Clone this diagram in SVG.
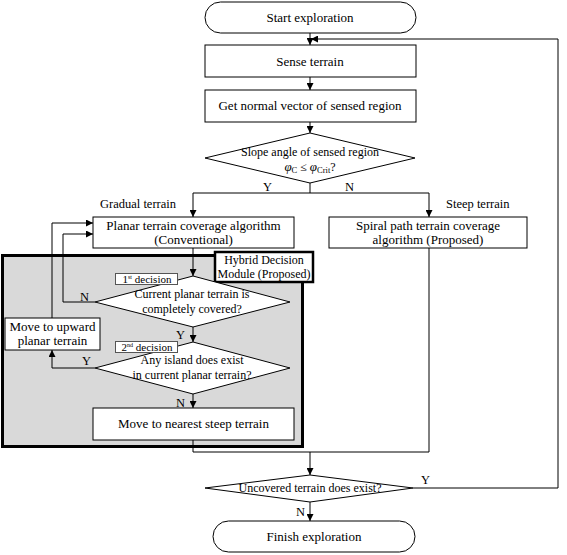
<svg xmlns="http://www.w3.org/2000/svg" width="567" height="555" viewBox="0 0 567 555">
<defs>
<marker id="ah" viewBox="0 0 10 10" refX="10" refY="5" markerWidth="7" markerHeight="7" markerUnits="userSpaceOnUse" orient="auto">
<path d="M0,0 L10,5 L0,10 z" fill="#000"/>
</marker>
<style>
.b{fill:#fff;stroke:#000;stroke-width:1}
.t{font-family:"Liberation Serif","Times New Roman",serif;font-size:13px;fill:#000;text-anchor:middle}
.s{font-family:"Liberation Serif","Times New Roman",serif;font-size:12px;fill:#000;text-anchor:middle}
.d{font-family:"Liberation Serif","Times New Roman",serif;font-size:11px;fill:#000;text-anchor:middle}
.l{font-family:"Liberation Serif","Times New Roman",serif;font-size:12.5px;fill:#000}
.c{fill:none;stroke:#000;stroke-width:1}
.a{fill:none;stroke:#000;stroke-width:1;marker-end:url(#ah)}
</style>
</defs>
<rect width="567" height="555" fill="#fff"/>
<g id="hybrid-region">
<rect x="2.5" y="255.5" width="300" height="191" fill="#d9d9d9" stroke="#000" stroke-width="3"/>
</g>
<g id="connectors">
<line class="a" x1="310" y1="33" x2="310" y2="45"/>
<line class="a" x1="310" y1="77" x2="310" y2="90"/>
<line class="a" x1="310" y1="122" x2="310" y2="133"/>
<polyline class="c" points="310,183 310,193"/>
<polyline class="c" points="193,193 429,193"/>
<line class="a" x1="193" y1="193" x2="193" y2="217"/>
<line class="a" x1="429" y1="193" x2="429" y2="217"/>
<line class="a" x1="193" y1="248" x2="193" y2="276"/>
<polyline class="a" points="95,302 63,302 63,234 93,234"/>
<line class="a" x1="193" y1="327" x2="193" y2="342"/>
<polyline class="a" points="95,368 52,368 52,350"/>
<polyline class="a" points="52,318 52,223 93,223"/>
<line class="a" x1="193" y1="394" x2="193" y2="408"/>
<polyline class="c" points="193,440 193,452 429,452 429,248"/>
<line class="a" x1="310" y1="452" x2="310" y2="475"/>
<polyline class="a" points="413,488 558,488 558,39 311,39"/>
<line class="a" x1="310" y1="502" x2="310" y2="521"/>
</g>
<g id="labels">
<text class="l" x="263" y="191">Y</text>
<text class="l" x="345" y="191">N</text>
<text class="l" x="100" y="208">Gradual terrain</text>
<text class="l" x="446" y="208">Steep terrain</text>
<text class="l" x="80" y="301">N</text>
<text class="l" x="176" y="339">Y</text>
<text class="l" x="82" y="365">Y</text>
<text class="l" x="176" y="407">N</text>
<text class="l" x="421" y="484">Y</text>
<text class="l" x="296" y="516">N</text>
</g>
<g id="start">
<rect class="b" x="205" y="2" width="211" height="31" rx="15.5"/>
<text class="t" x="310" y="22">Start exploration</text>
</g>
<g id="sense">
<rect class="b" x="205" y="45" width="211" height="32"/>
<text class="t" x="310" y="66">Sense terrain</text>
</g>
<g id="normal">
<rect class="b" x="205" y="90" width="211" height="32"/>
<text class="t" x="310" y="110">Get normal vector of sensed region</text>
</g>
<g id="slope">
<polygon class="b" points="310,133 415,158 310,183 205,158"/>
<text class="s" x="310" y="156">Slope angle of sensed region</text>
<text class="s" x="310" y="171"><tspan font-style="italic" font-size="13">φ</tspan><tspan font-size="8.5" dy="2">C</tspan><tspan dy="-2"> ≤ </tspan><tspan font-style="italic" font-size="13">φ</tspan><tspan font-size="8.5" dy="2">Crit</tspan><tspan dy="-2">?</tspan></text>
</g>
<g id="planar">
<rect class="b" x="93" y="217" width="201" height="31"/>
<text class="t" x="193.5" y="230">Planar terrain coverage algorithm</text>
<text class="t" x="193.5" y="244">(Conventional)</text>
</g>
<g id="spiral">
<rect class="b" x="329" y="217" width="198" height="31"/>
<text class="t" x="428" y="230">Spiral path terrain coverage</text>
<text class="t" x="428" y="244">algorithm (Proposed)</text>
</g>
<g id="hybrid-label">
<rect x="215" y="252" width="98" height="30" fill="#fff" stroke="#000" stroke-width="2.5"/>
<text class="s" x="264" y="264">Hybrid Decision</text>
<text class="s" x="264" y="278">Module (Proposed)</text>
</g>
<g id="decision1">
<polygon class="b" points="193,276 290,302 193,327 95,302"/>
<text class="s" x="192" y="298">Current planar terrain is</text>
<text class="s" x="192" y="313">completely covered?</text>
<rect x="115.5" y="273.5" width="62" height="11" fill="#fff" stroke="#555" stroke-width="1"/>
<text class="d" x="147" y="283">1<tspan font-size="6" dy="-4">st</tspan><tspan dy="4"> decision</tspan></text>
</g>
<g id="decision2">
<polygon class="b" points="193,342 290,368 193,394 95,368"/>
<text class="s" x="192" y="364">Any island does exist</text>
<text class="s" x="192" y="379">in current planar terrain?</text>
<rect x="115.5" y="341.5" width="62" height="11" fill="#fff" stroke="#555" stroke-width="1"/>
<text class="d" x="147" y="351">2<tspan font-size="6" dy="-4">nd</tspan><tspan dy="4"> decision</tspan></text>
</g>
<g id="upward">
<rect class="b" x="5" y="318" width="95" height="32"/>
<text class="t" x="52.5" y="331">Move to upward</text>
<text class="t" x="52.5" y="345">planar terrain</text>
</g>
<g id="nearest">
<rect class="b" x="93" y="408" width="201" height="32"/>
<text class="t" x="193.5" y="428">Move to nearest steep terrain</text>
</g>
<g id="uncovered">
<polygon class="b" points="310,475 413,488 310,502 205,488"/>
<text class="s" x="310" y="492">Uncovered terrain does exist?</text>
</g>
<g id="finish">
<rect class="b" x="213" y="521" width="202" height="31" rx="15.5"/>
<text class="t" x="314" y="541">Finish exploration</text>
</g>
</svg>
